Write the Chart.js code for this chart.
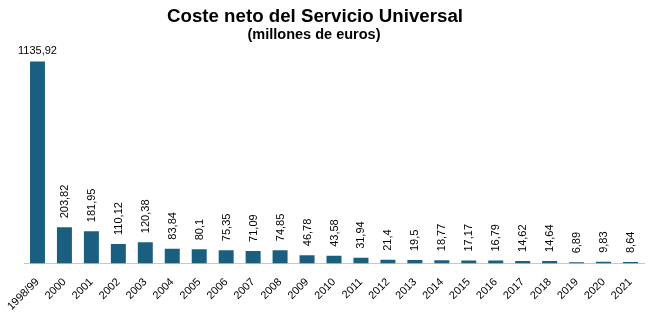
<!DOCTYPE html>
<html lang="es">
<head>
  <meta charset="UTF-8" />
  <title>Coste neto del Servicio Universal</title>
  <script src="https://cdn.jsdelivr.net/npm/chart.js"></script>
  <style>
    body { margin: 0; background: #fff; }
  </style>
</head>
<body>
  <canvas id="costeChart" width="649" height="335"></canvas>

  <script>
    const years = ['1998/99', '2000', '2001', '2002', '2003', '2004', '2005', '2006', '2007', '2008',
      '2009', '2010', '2011', '2012', '2013', '2014', '2015', '2016', '2017', '2018', '2019', '2020', '2021'];
    const coste = [1135.92, 203.82, 181.95, 110.12, 120.38, 83.84, 80.1, 75.35, 71.09, 74.85,
      46.78, 43.58, 31.94, 21.4, 19.5, 18.77, 17.17, 16.79, 14.62, 14.64, 6.89, 9.83, 8.64];

    const FONT = "'Liberation Sans', Arial, sans-serif";

    // heading drawn by hand so it sits a little left of the canvas centre
    const heading = {
      id: 'heading',
      afterDraw(chart) {
        const ctx = chart.ctx;
        ctx.save();
        ctx.fillStyle = '#000';
        ctx.textAlign = 'center';
        ctx.textBaseline = 'middle';
        ctx.font = 'bold 18.7px ' + FONT;
        ctx.fillText('Coste neto del Servicio Universal', 315, 17);
        ctx.font = 'bold 14.5px ' + FONT;
        ctx.fillText('(millones de euros)', 314, 35);
        ctx.restore();
      }
    };

    // value above each bar, decimal comma; first one flat, the rest turned upright
    const valueLabels = {
      id: 'valueLabels',
      afterDatasetsDraw(chart) {
        const ctx = chart.ctx;
        const meta = chart.getDatasetMeta(0);
        ctx.save();
        ctx.fillStyle = '#000';
        ctx.font = '11px ' + FONT;
        meta.data.forEach((bar, i) => {
          const txt = String(coste[i]).replace('.', ',');
          if (i === 0) {
            ctx.textAlign = 'center';
            ctx.textBaseline = 'alphabetic';
            ctx.fillText(txt, bar.x, bar.y - 8);
          } else {
            ctx.save();
            ctx.translate(bar.x + 0.5, bar.y - 9);
            ctx.rotate(-Math.PI / 2);
            ctx.textAlign = 'left';
            ctx.textBaseline = 'middle';
            ctx.fillText(txt, 0, 0);
            ctx.restore();
          }
        });
        ctx.restore();
      }
    };

    new Chart(document.getElementById('costeChart'), {
      type: 'bar',
      data: {
        labels: years,
        datasets: [{
          data: coste,
          backgroundColor: '#1b5f80',
          barPercentage: 0.556,
          categoryPercentage: 1
        }]
      },
      options: {
        responsive: false,
        animation: false,
        layout: { padding: { left: 24, right: 5, top: 56, bottom: 10 } },
        plugins: {
          legend: { display: false },
          tooltip: { enabled: false },
          title: { display: false }
        },
        scales: {
          x: {
            // the slanted first label may hang past the plot edge
            afterFit(scale) {
              scale.paddingLeft = 0;
              scale.paddingRight = 0;
            },
            grid: { display: false, drawTicks: false },
            border: { display: true, color: '#c8c8c8', width: 1 },
            ticks: {
              color: '#000',
              font: { family: FONT, size: 11 },
              minRotation: 45,
              maxRotation: 45,
              padding: 12,
              autoSkip: false
            }
          },
          y: {
            display: false,
            min: 0,
            max: 1167
          }
        }
      },
      plugins: [valueLabels, heading]
    });
  </script>
</body>
</html>
